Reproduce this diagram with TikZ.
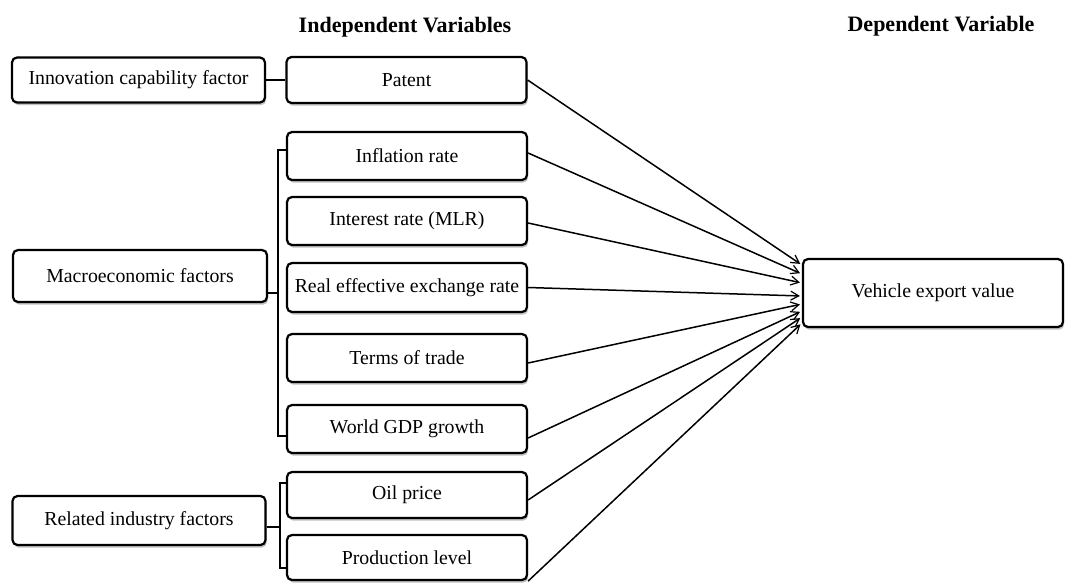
\documentclass[tikz,border=0pt]{standalone}
\usepackage{fontspec}
\setmainfont{Liberation Serif}
\usetikzlibrary{calc,shadows,arrows.meta}
\begin{document}
\begin{tikzpicture}[x=1pt,y=-1pt,
  box/.style={draw=black, line width=2.2pt, rounded corners=5pt, fill=white,
    inner sep=0pt, align=center, font=\fontsize{19.8}{22}\selectfont,
    drop shadow={shadow xshift=1.2pt, shadow yshift=-2.6pt, fill=black!35, opacity=0.7}},
  midbox/.style={box, minimum width=240pt},
  leftbox/.style={box, minimum width=253pt},
  head/.style={font=\bfseries\fontsize{22}{24}\selectfont, inner sep=0pt},
  link/.style={draw=black, line width=2.1pt},
  arr/.style={draw=black, line width=1.5pt, -{Straight Barb[length=8pt,width=9pt,line width=1.2pt]}, shorten >=2pt}
]
\useasboundingbox (0,0) rectangle (1066,582);

% headings
\node[head] (hind) at (405,27) {Independent Variables};
\node[head] (hdep) at (941,26) {Dependent Variable};

% factor groups on the left
\node[leftbox, minimum height=45pt] (inno) at (138.5,80) {Innovation capability factor};
\node[leftbox, minimum height=52pt, minimum width=254pt] (macro) at (140,276) {Macroeconomic factors};
\node[leftbox, minimum height=49pt] (rel) at (139,520.5) {Related industry factors};

% independent variables
\node[midbox, minimum height=46pt] (pat)  at (406.5,80)  {Patent};
\node[midbox, minimum height=48pt] (infl) at (407,156)   {Inflation rate};
\node[midbox, minimum height=48pt] (intr) at (407,221)   {Interest rate (MLR)};
\node[midbox, minimum height=49pt] (reer) at (407,287.5) {Real effective exchange rate};
\node[midbox, minimum height=48pt] (tot)  at (407,358)   {Terms of trade};
\node[midbox, minimum height=48pt] (gdp)  at (407,429)   {World GDP growth};
\node[midbox, minimum height=46pt] (oil)  at (407,495)   {Oil price};
\node[midbox, minimum height=45pt] (prod) at (407,557.5) {Production level};

% dependent variable
\node[box, minimum width=260pt, minimum height=68pt] (veh) at (933,293) {Vehicle export value};

% group connectors
\draw[link] (inno.east) -- (pat.west);

\coordinate (mtop) at ($(infl.west)+(0,-6)$);
\coordinate (mbot) at ($(gdp.west)+(0,7)$);
\draw[link] ($(macro.east)+(0,17)$) -- ++(10,0) coordinate (mmid);
\draw[link] (mtop) -| (mmid) |- (mbot);

\coordinate (rtop) at ($(oil.west)+(0,-12)$);
\coordinate (rbot) at ($(prod.west)+(0,10.5)$);
\draw[link] ($(rel.east)+(0,6.5)$) -- ++(13,0) coordinate (rmid);
\draw[link] (rtop) -| (rmid) |- (rbot);

% influence arrows
\draw[arr] (pat.east)  -- ($(veh.west)+(0,-28)$);
\draw[arr] ($(infl.east)+(0,-3)$) -- ($(veh.west)+(0,-19)$);
\draw[arr] ($(intr.east)+(0,2)$)  -- ($(veh.west)+(0,-10)$);
\draw[arr] (reer.east) -- ($(veh.west)+(0,3)$);
\draw[arr] ($(tot.east)+(0,5)$)   -- ($(veh.west)+(0,11)$);
\draw[arr] ($(gdp.east)+(0,9)$)   -- ($(veh.west)+(0,18)$);
\draw[arr] ($(oil.east)+(0,5)$)   -- ($(veh.west)+(0,24)$);
\draw[arr] (prod.south east) -- ($(veh.west)+(0,30)$);
\end{tikzpicture}
\end{document}
